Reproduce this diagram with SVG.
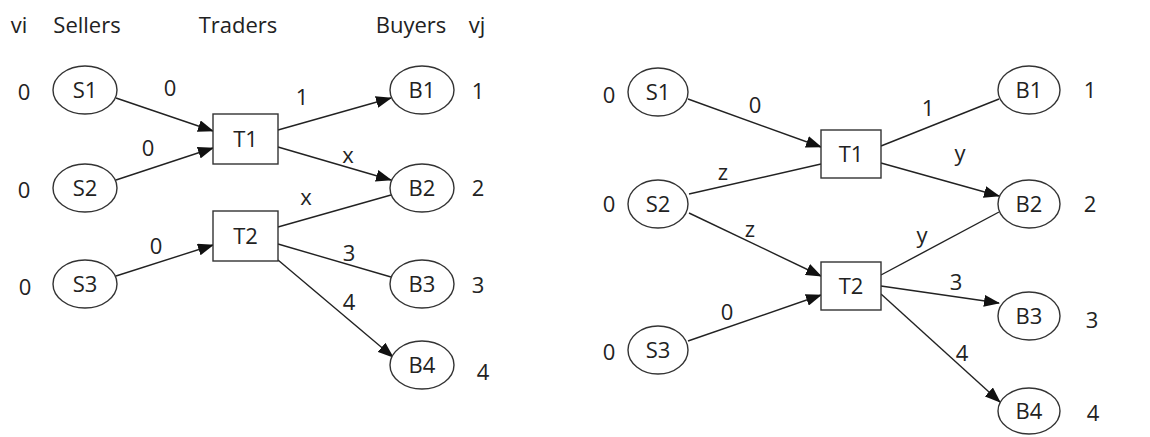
<svg xmlns="http://www.w3.org/2000/svg" width="1150" height="437" viewBox="0 0 1150 437">
<style>
text{font-family:"Open Sans","Liberation Sans",sans-serif;font-size:22px;fill:#222;text-anchor:middle}
.n ellipse,.n rect{fill:#fff;stroke:#333;stroke-width:1.4}
.e line{stroke:#222;stroke-width:1.4}
.a{marker-end:url(#ah)}
</style>
<defs>
<marker id="ah" markerUnits="userSpaceOnUse" markerWidth="16" markerHeight="12" refX="15" refY="6" orient="auto">
<path d="M0,0 L16,6 L0,12 z" fill="#111"/>
</marker>
</defs>
<rect width="1150" height="437" fill="#fff"/>
<g id="headers">
<text x="19" y="33">vi</text>
<text x="87" y="33">Sellers</text>
<text x="238" y="33">Traders</text>
<text x="411" y="33">Buyers</text>
<text x="477" y="33">vj</text>
</g>
<g id="connectors" class="e">
<line class="a" x1="116" y1="98" x2="213" y2="131"/>
<line class="a" x1="116" y1="180" x2="213" y2="148"/>
<line class="a" x1="278" y1="130" x2="391" y2="98"/>
<line class="a" x1="278" y1="147" x2="391" y2="180"/>
<line x1="278" y1="227" x2="391" y2="195"/>
<line x1="278" y1="244" x2="391" y2="277"/>
<line class="a" x1="278" y1="260" x2="393" y2="357"/>
<line class="a" x1="116" y1="276" x2="213" y2="245"/>
<line class="a" x1="688" y1="99" x2="821" y2="147"/>
<line x1="689" y1="194" x2="821" y2="164"/>
<line class="a" x1="689" y1="213" x2="821" y2="276"/>
<line class="a" x1="688" y1="341" x2="821" y2="295"/>
<line x1="881" y1="146" x2="999" y2="99"/>
<line class="a" x1="881" y1="163" x2="999" y2="196"/>
<line x1="999" y1="212" x2="881" y2="275"/>
<line class="a" x1="881" y1="286" x2="999" y2="303"/>
<line class="a" x1="881" y1="294" x2="1000" y2="402"/>
</g>
<g id="edge-labels">
<text x="170" y="96">0</text>
<text x="148" y="156">0</text>
<text x="302" y="105">1</text>
<text x="348" y="163">x</text>
<text x="306" y="205">x</text>
<text x="156" y="254">0</text>
<text x="349" y="261">3</text>
<text x="349" y="310">4</text>
<text x="755" y="113">0</text>
<text x="723" y="180">z</text>
<text x="750" y="237">z</text>
<text x="928" y="116">1</text>
<text x="960" y="161">y</text>
<text x="922" y="243">y</text>
<text x="956" y="290">3</text>
<text x="962" y="361">4</text>
<text x="727" y="320">0</text>
</g>
<g id="values">
<text x="24" y="100">0</text>
<text x="24" y="198">0</text>
<text x="25" y="295">0</text>
<text x="478" y="99">1</text>
<text x="478" y="196">2</text>
<text x="478" y="293">3</text>
<text x="483" y="380">4</text>
<text x="609" y="103">0</text>
<text x="609" y="212">0</text>
<text x="609" y="360">0</text>
<text x="1090" y="98">1</text>
<text x="1090" y="212">2</text>
<text x="1092" y="328">3</text>
<text x="1093" y="421">4</text>
</g>
<g id="L-S1" class="n"><ellipse cx="85" cy="90" rx="32" ry="24"/><text x="85" y="98">S1</text></g>
<g id="L-S2" class="n"><ellipse cx="85" cy="188" rx="32" ry="24"/><text x="85" y="196">S2</text></g>
<g id="L-S3" class="n"><ellipse cx="85" cy="284" rx="32" ry="24"/><text x="85" y="292">S3</text></g>
<g id="L-T1" class="n"><rect x="213" y="114" width="65" height="50"/><text x="245.5" y="147">T1</text></g>
<g id="L-T2" class="n"><rect x="213" y="211" width="65" height="50"/><text x="245.5" y="244">T2</text></g>
<g id="L-B1" class="n"><ellipse cx="422" cy="90" rx="32" ry="24"/><text x="422" y="98">B1</text></g>
<g id="L-B2" class="n"><ellipse cx="422" cy="188" rx="32" ry="24"/><text x="422" y="196">B2</text></g>
<g id="L-B3" class="n"><ellipse cx="422" cy="284" rx="32" ry="24"/><text x="422" y="292">B3</text></g>
<g id="L-B4" class="n"><ellipse cx="422" cy="365" rx="32" ry="24"/><text x="422" y="373">B4</text></g>
<g id="R-S1" class="n"><ellipse cx="658" cy="92" rx="30" ry="24"/><text x="658" y="100">S1</text></g>
<g id="R-S2" class="n"><ellipse cx="658" cy="204" rx="30" ry="24"/><text x="658" y="212">S2</text></g>
<g id="R-S3" class="n"><ellipse cx="658" cy="350" rx="30" ry="24"/><text x="658" y="358">S3</text></g>
<g id="R-T1" class="n"><rect x="821" y="130" width="60" height="48"/><text x="851" y="162">T1</text></g>
<g id="R-T2" class="n"><rect x="821" y="262" width="60" height="48"/><text x="851" y="294">T2</text></g>
<g id="R-B1" class="n"><ellipse cx="1029" cy="90" rx="31" ry="24"/><text x="1029" y="98">B1</text></g>
<g id="R-B2" class="n"><ellipse cx="1029" cy="204" rx="31" ry="24"/><text x="1029" y="212">B2</text></g>
<g id="R-B3" class="n"><ellipse cx="1029" cy="316" rx="31" ry="24"/><text x="1029" y="324">B3</text></g>
<g id="R-B4" class="n"><ellipse cx="1029" cy="411" rx="31" ry="23"/><text x="1029" y="419">B4</text></g>
</svg>
